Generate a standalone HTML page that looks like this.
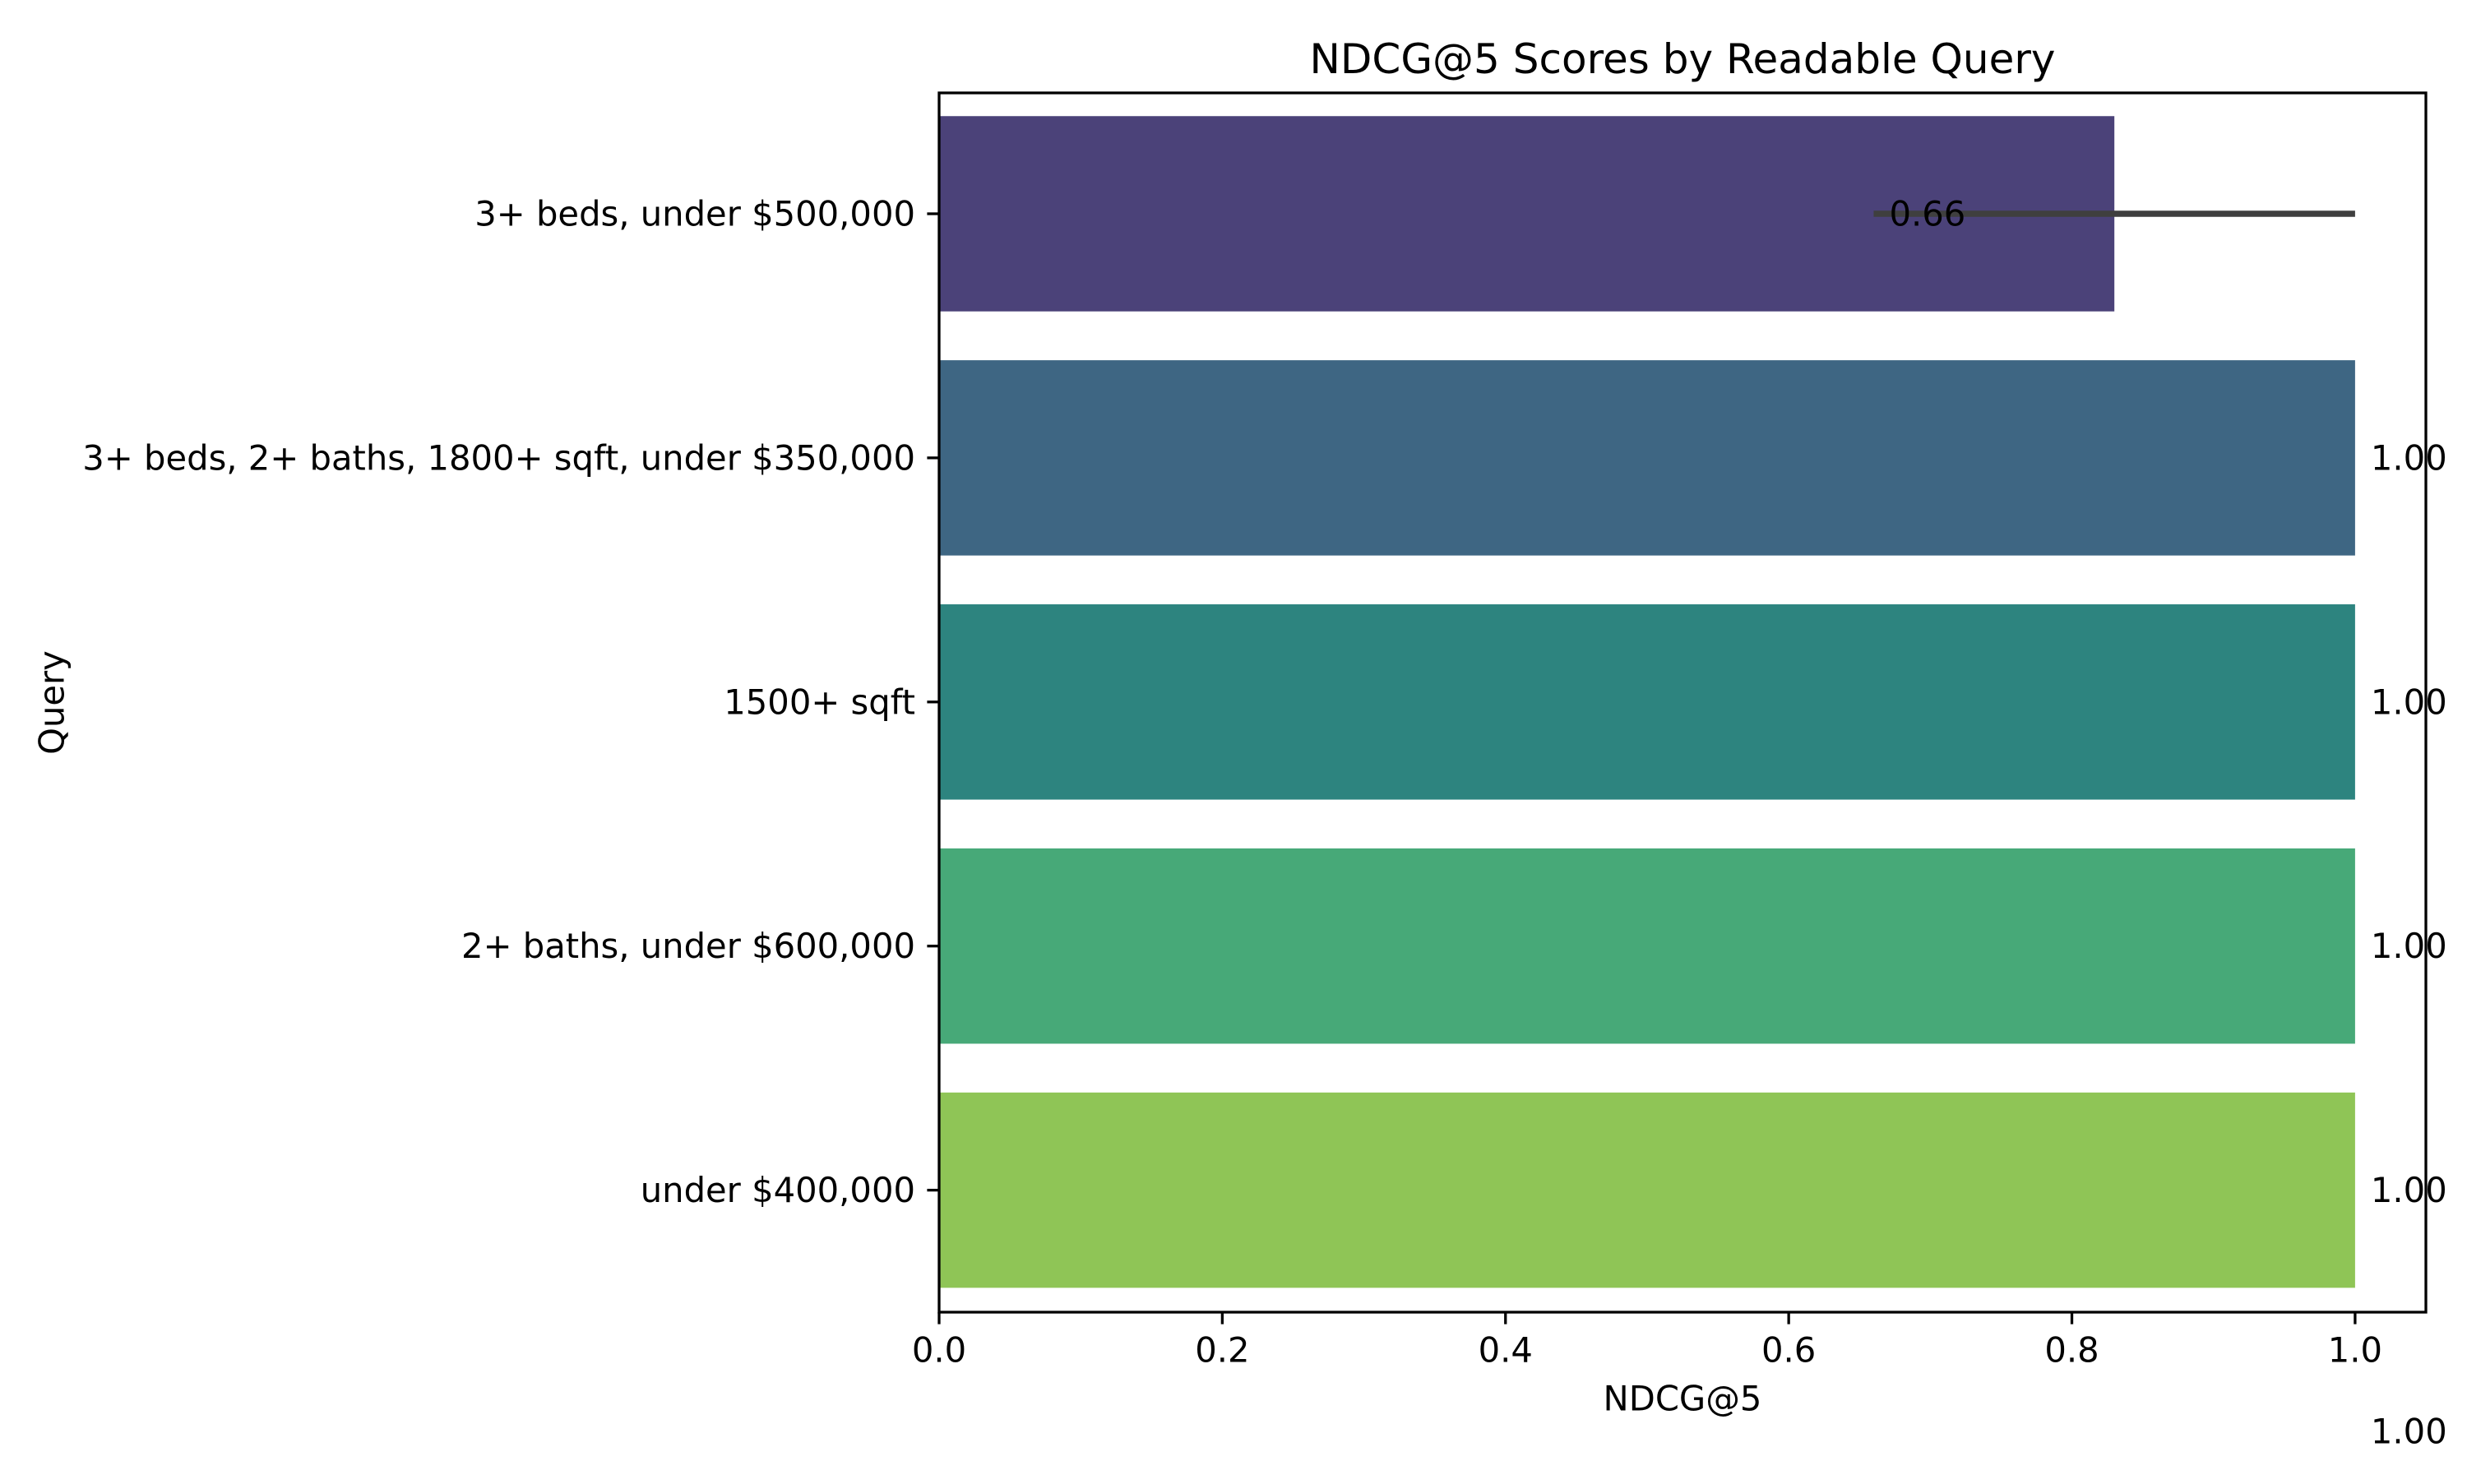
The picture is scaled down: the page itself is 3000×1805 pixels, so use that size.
<!DOCTYPE html>
<html><head><meta charset="utf-8"><style>
html,body{margin:0;padding:0;background:#fff;}
svg text{font-family:"DejaVu Sans","Liberation Sans",sans-serif;fill:#000;}
</style></head><body>
<svg id="chart" width="3000" height="1800" viewBox="0 0 3000 1800" xmlns="http://www.w3.org/2000/svg">
<rect width="3000" height="1800" fill="#fff"/>
<g id="bars"></g>
<g id="axes"></g>
</svg>
<script>
const categories = ["3+ beds, under $500,000","3+ beds, 2+ baths, 1800+ sqft, under $350,000","1500+ sqft","2+ baths, under $600,000","under $400,000"];
const values = [0.83, 1.0, 1.0, 1.0, 1.0];
const errLow = [0.66, 1.0, 1.0, 1.0, 1.0];
const errHigh = [1.0, 1.0, 1.0, 1.0, 1.0];
const labelValues = [0.66, 1.00, 1.00, 1.00, 1.00];
const xTicks = [0, 0.2, 0.4, 0.6, 0.8, 1.0];
const colors = ["#4b4279","#3e6683","#2d847f","#47a978","#8fc556"];

const L=1142,R=2950,T=113,B=1596;
const X = v => L + (v/1.05)*(R-L);
// categorical axis: ylim from -0.6 to 4.4 (inverted)
const yMin=-0.5-0.095, yMax=4.5-0.0; 
const step = 296.9;
const Y = i => 260 + step*i;
const NS="http://www.w3.org/2000/svg";
function mk(tag, attrs, parent){const e=document.createElementNS(NS,tag);for(const k in attrs)e.setAttribute(k,attrs[k]);parent.appendChild(e);return e;}
const bars=document.getElementById('bars'), axes=document.getElementById('axes');
const bh=step*0.8;
categories.forEach((c,i)=>{
  const r=mk('rect',{x:X(0),y:Y(i)-bh/2,width:X(values[i])-X(0),height:bh,fill:colors[i]},bars);
  
  
  if(errHigh[i]>errLow[i]){
    const l=mk('line',{x1:X(errLow[i]),x2:X(errHigh[i]),y1:Y(i),y2:Y(i),stroke:'#3f3f3f','stroke-width':7.5},bars);
    
    
  }
  const lx = (i===0?X(labelValues[i]):X(values[i]))+19;
  const t=mk('text',{x:lx,y:Y(i),'font-size':41.7,'dominant-baseline':'central'},bars);
  t.textContent=labelValues[i].toFixed(2);
  
  
  const tk=mk('line',{x1:L-14.6,x2:L,y1:Y(i),y2:Y(i),stroke:'#000','stroke-width':3.3},axes);
  
  
  const yl=mk('text',{x:L-29,y:Y(i),'font-size':41.7,'text-anchor':'end','dominant-baseline':'central'},axes);
  yl.textContent=c;
  
  
});
const stray=mk('text',{x:X(1.0)+19,y:1741,'font-size':41.7,'dominant-baseline':'central'},bars);
stray.textContent="1.00";


xTicks.forEach(v=>{
  const tk=mk('line',{x1:X(v),x2:X(v),y1:B,y2:B+14.6,stroke:'#000','stroke-width':3.3},axes);
  
  
  const t=mk('text',{x:X(v),y:1642,'font-size':41.7,'text-anchor':'middle','dominant-baseline':'central'},axes);
  t.textContent=v.toFixed(1);
  
  
});
const frame=mk('rect',{x:L,y:T,width:R-L,height:B-T,fill:'none',stroke:'#000','stroke-width':3.3},axes);


const title=mk('text',{x:(L+R)/2,y:72,'font-size':50,'text-anchor':'middle','dominant-baseline':'central'},axes);
title.textContent="NDCG@5 Scores by Readable Query";


const xl=mk('text',{x:(L+R)/2,y:1701,'font-size':41.7,'text-anchor':'middle','dominant-baseline':'central'},axes);
xl.textContent="NDCG@5";


const yc=(T+B)/2;
const yl=mk('text',{x:63,y:yc,'font-size':41.7,'text-anchor':'middle','dominant-baseline':'central',transform:'rotate(-90 63 '+yc+')'},axes);
yl.textContent="Query";


</script>
</body></html>
